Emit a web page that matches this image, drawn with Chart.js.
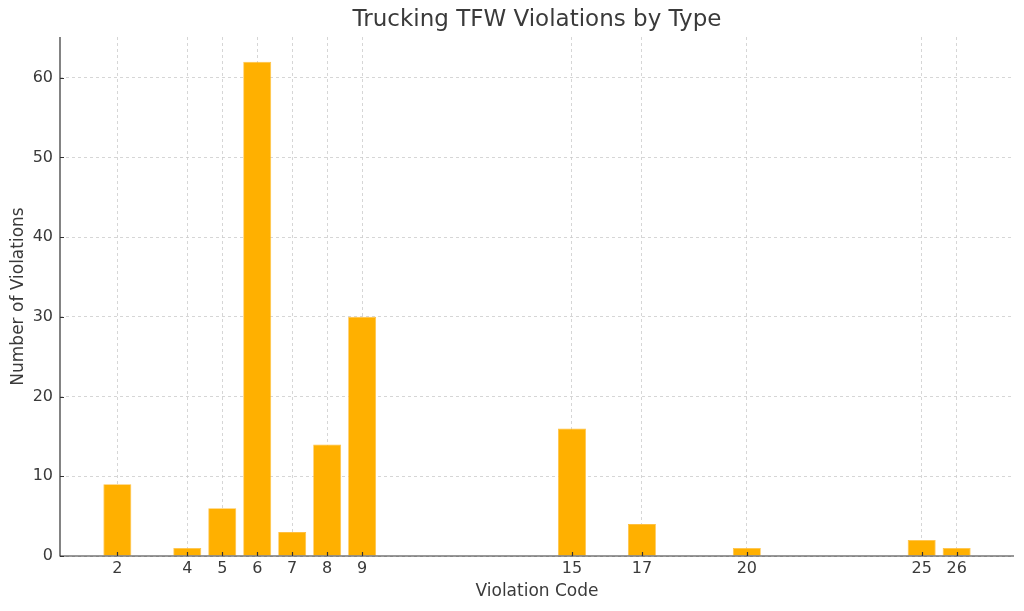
<!DOCTYPE html>
<html><head><meta charset="utf-8">
<script src="https://cdn.jsdelivr.net/npm/chart.js@4"></script>
<style>html,body{margin:0;padding:0;background:#fff}</style>
</head><body>
<canvas id="c" width="1024" height="611"></canvas>
<script>
const codes = [2, 4, 5, 6, 7, 8, 9, 15, 17, 20, 25, 26];
const counts = [9, 1, 6, 62, 3, 14, 30, 16, 4, 1, 2, 1];
const yTicks = [0, 10, 20, 30, 40, 50, 60];

const TXT = '#3a3a3a';
const FONT = 'DejaVu Sans';

const axesPlugin = {
  id: 'axesPlugin',
  afterDraw(chart) {
    const ctx = chart.ctx, x = chart.scales.x, y = chart.scales.y;
    ctx.save();
    ctx.setLineDash([]);
    ctx.strokeStyle = '#333';
    ctx.lineWidth = 1.2;
    ctx.beginPath();
    ctx.moveTo(x.left, y.top); ctx.lineTo(x.left, y.bottom); ctx.lineTo(x.right, y.bottom);
    x.ticks.forEach(t => { const px = Math.round(x.getPixelForValue(t.value)) + 0.5; ctx.moveTo(px, y.bottom); ctx.lineTo(px, y.bottom - 4); });
    y.ticks.forEach(t => { const py = Math.round(y.getPixelForValue(t.value)) + 0.5; ctx.moveTo(x.left, py); ctx.lineTo(x.left + 4, py); });
    ctx.stroke();
    ctx.restore();
  }
};

new Chart(document.getElementById('c'), {
  type: 'bar',
  data: {
    datasets: [{
      data: codes.map((c, i) => ({ x: c, y: counts[i] })),
      backgroundColor: '#FFB000',
      borderColor: '#FFC040',
      borderWidth: 0.8,
      barPercentage: 0.8,
      categoryPercentage: 1.0
    }]
  },
  options: {
    responsive: false,
    devicePixelRatio: 1,
    animation: false,
    layout: { padding: { left: 0, right: 10, top: 0, bottom: 0 } },
    plugins: {
      legend: { display: false },
      tooltip: { enabled: false },
      title: {
        display: true,
        fullSize: false,
        text: 'Trucking TFW Violations by Type',
        color: TXT,
        font: { family: FONT, size: 23, weight: 'normal' },
        padding: { top: 6, bottom: 3.4 }
      }
    },
    scales: {
      x: {
        type: 'linear',
        min: 0.36, max: 27.64,
        offset: false,
        z: 1,
        afterBuildTicks: s => { s.ticks = codes.map(v => ({ value: v })); },
        afterFit: s => { s.height = 55; },
        ticks: { color: TXT, font: { family: FONT, size: 16 }, padding: 3, autoSkip: false, maxRotation: 0 },
        grid: { color: '#cccccc', lineWidth: 0.8, drawTicks: false, offset: false },
        border: { display: false, dash: [3, 3] },
        title: { display: true, text: 'Violation Code', color: TXT, font: { family: FONT, size: 17 }, padding: { top: 2, bottom: 9 } }
      },
      y: {
        min: 0, max: 65.1,
        z: 1,
        afterBuildTicks: s => { s.ticks = yTicks.map(v => ({ value: v })); },
        afterFit: s => { s.width = 60; },
        ticks: { color: TXT, font: { family: FONT, size: 16 }, padding: 7 },
        grid: { color: '#cccccc', lineWidth: 0.8, drawTicks: false },
        border: { display: false, dash: [3, 3] },
        title: { display: true, text: 'Number of Violations', color: TXT, font: { family: FONT, size: 17 }, padding: { top: 8, bottom: 2 } }
      }
    }
  },
  plugins: [axesPlugin]
});
</script>
</body></html>
